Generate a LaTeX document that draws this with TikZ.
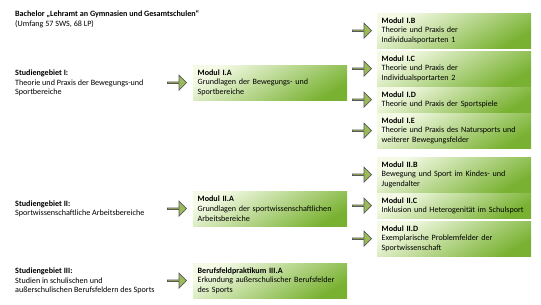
\documentclass[tikz,border=0pt]{standalone}
\usepackage{fontspec}
\setmainfont{Carlito}
\usetikzlibrary{positioning, shapes.arrows}
\definecolor{boxlight}{HTML}{F4FAE6}
\definecolor{boxmid}{HTML}{B3DB55}
\definecolor{boxdark}{HTML}{79B232}
\definecolor{arrowfill}{HTML}{9BBB59}
\definecolor{arrowline}{HTML}{595959}
\tikzset{
  txt/.style={font=\fontsize{8.1}{9.6}\selectfont, align=left, inner sep=0pt},
  modul/.style={txt, anchor=north west, text width=145pt, inner xsep=4.5pt, minimum height=35pt,
    top color=boxlight, middle color=boxmid, bottom color=boxdark, shading angle=30},
  modulflat/.style={modul, minimum height=25pt},
  gebiet/.style={txt, anchor=west},
  pfeil/.style={single arrow, draw=arrowline, fill=arrowfill, line width=0.7pt,
    minimum height=19pt, minimum width=15pt, single arrow head extend=3pt, inner sep=0pt},
}
\begin{document}
\begin{tikzpicture}[x=1pt, y=-1pt]
  \useasboundingbox (0,0) rectangle (541,305);
  % linke Spalte
  \node[gebiet] (bachelor) at (15,19) {\textbf{Bachelor „Lehramt an Gymnasien und Gesamtschulen“}\\(Umfang 57 SWS, 68 LP)};
  \node[gebiet] (geb1) at (15,83) {\textbf{Studiengebiet I:}\\Theorie und Praxis der Bewegungs-und\\Sportbereiche};
  \node[gebiet] (geb2) at (15,209) {\textbf{Studiengebiet II:}\\Sportwissenschaftliche Arbeitsbereiche};
  \node[gebiet] (geb3) at (15,281) {\textbf{Studiengebiet III:}\\Studien in schulischen und\\außerschulischen Berufsfeldern des Sports};
  % mittlere Spalte
  \node[modul] (m1a) at (193,65) {\textbf{Modul I.A}\\Grundlagen der Bewegungs- und\\Sportbereiche};
  \node[modul] (m2a) at (193,191) {\textbf{Modul II.A}\\Grundlagen der sportwissenschaftlichen\\Arbeitsbereiche};
  \node[modul] (m3a) at (193,263) {\textbf{Berufsfeldpraktikum III.A}\\Erkundung außerschulischer Berufsfelder\\des Sports};
  \foreach \m in {m1a,m2a,m3a}
    \node[pfeil, left=6pt of \m] (p\m) {};
  % rechte Spalte
  \node[modul] (m1b) at (377,13) {\textbf{Modul I.B}\\Theorie und Praxis der\\Individualsportarten 1};
  \node[modul] (m1c) at (377,51) {\textbf{Modul I.C}\\Theorie und Praxis der\\Individualsportarten 2};
  \node[modulflat] (m1d) at (377,87) {\textbf{Modul I.D}\\Theorie und Praxis der Sportspiele};
  \node[modul] (m1e) at (377,113) {\textbf{Modul I.E}\\Theorie und Praxis des Natursports und\\weiterer Bewegungsfelder};
  \node[modul] (m2b) at (377,157) {\textbf{Modul II.B}\\Bewegung und Sport im Kindes- und\\Jugendalter};
  \node[modulflat] (m2c) at (377,193) {\textbf{Modul II.C}\\\mbox{Inklusion und Heterogenität im Schulsport}};
  \node[modul] (m2d) at (377,221) {\textbf{Modul II.D}\\Exemplarische Problemfelder der\\Sportwissenschaft};
  \foreach \m in {m1b,m1c,m1d,m1e,m2b,m2c,m2d}
    \node[pfeil, left=5pt of \m] (p\m) {};
\end{tikzpicture}
\end{document}
